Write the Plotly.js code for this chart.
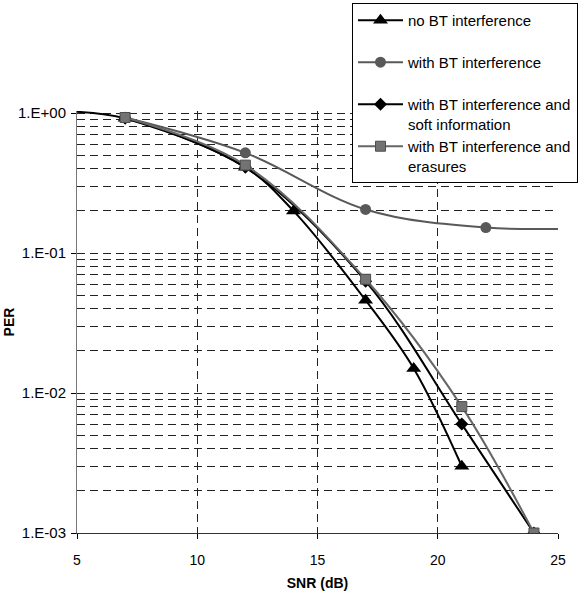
<!DOCTYPE html>
<html>
<head>
<meta charset="utf-8">
<script src="https://cdn.plot.ly/plotly-3.0.1.min.js"></script>
<style>html,body{margin:0;padding:0;background:#fff;}#chart{width:578px;height:591px;}</style>
</head>
<body>
<div id="chart"></div>
<script>
// Series data (SNR in dB, PER)
var seriesNames = [
  "no BT interference<br> ",
  "with BT interference<br> ",
  "with BT interference and<br>soft information",
  "with BT interference and<br>erasures"
];
var snrNoBT = [4, 7, 12, 14, 17, 19, 21];
var perNoBT = [1.035, 0.92, 0.41, 0.2, 0.046, 0.015, 0.003];

var snrBT = [7, 12, 17, 22, 27];
var perBT = [0.93, 0.52, 0.205, 0.152, 0.152];

var snrSoft = [7, 12, 17, 21, 24];
var perSoft = [0.92, 0.41, 0.063, 0.006, 0.001];

var snrErase = [7, 12, 17, 21, 24];
var perErase = [0.93, 0.425, 0.065, 0.008, 0.001];

var yTickVals = [0.001, 0.01, 0.1, 1];
var yTickText = ["1.E-03", "1.E-02", "1.E-01", "1.E+00"];
var yMinorVals = [];
[0.001, 0.01, 0.1].forEach(function (d) {
  for (var k = 2; k <= 9; k++) yMinorVals.push(+(k * d).toPrecision(3));
});
var xTickVals = [5, 10, 15, 20, 25];

var FONT = "Arial, 'Liberation Sans', sans-serif";

var traces = [
  {x: snrNoBT, y: perNoBT, name: seriesNames[0], mode: "lines+markers",
   line: {color: "#000000", width: 2, shape: "spline", smoothing: 1},
   marker: {symbol: "triangle-up", size: 13, color: "#000000"}},
  {x: snrBT, y: perBT, name: seriesNames[1], mode: "lines+markers",
   line: {color: "#595959", width: 2, shape: "spline", smoothing: 1},
   marker: {symbol: "circle", size: 11, color: "#595959"}},
  {x: snrSoft, y: perSoft, name: seriesNames[2], mode: "lines+markers",
   line: {color: "#000000", width: 2, shape: "spline", smoothing: 1},
   marker: {symbol: "diamond", size: 10, color: "#000000"}},
  {x: snrErase, y: perErase, name: seriesNames[3], mode: "lines+markers",
   line: {color: "#666666", width: 2, shape: "spline", smoothing: 1},
   marker: {symbol: "square", size: 10, color: "#737373", line: {color: "#4d4d4d", width: 1}}}
];

var layout = {
  width: 578, height: 591,
  margin: {l: 77, r: 20, t: 111, b: 58, autoexpand: false},
  paper_bgcolor: "#ffffff", plot_bgcolor: "#ffffff",
  font: {family: FONT, size: 15, color: "#000000"},
  showlegend: true,
  legend: {
    x: 0.5717, xanchor: "left", y: 1.256, yanchor: "top",
    bgcolor: "#ffffff", bordercolor: "#000000", borderwidth: 1,
    font: {family: FONT, size: 15, color: "#000000"},
    valign: "top", itemwidth: 45
  },
  xaxis: {
    type: "linear", range: [5, 25],
    tickvals: xTickVals, ticktext: xTickVals.map(String),
    ticks: "outside", ticklen: 5, tickcolor: "#000000",
    ticklabelstandoff: 9,
    showline: true, linecolor: "#333333", linewidth: 1,
    showgrid: true, gridcolor: "#222222", gridwidth: 1, griddash: "8px,5px",
    zeroline: false,
    tickfont: {family: FONT, size: 14, color: "#000000"},
    title: {text: "<b>SNR (dB)</b>", font: {family: FONT, size: 14, color: "#000000"}, standoff: 14},
    automargin: true
  },
  yaxis: {
    type: "log", range: [-3, 0.015],
    tickvals: yTickVals, ticktext: yTickText,
    ticks: "outside", ticklen: 5, tickcolor: "#000000",
    ticklabelstandoff: 2,
    showline: true, linecolor: "#777777", linewidth: 1,
    showgrid: true, gridcolor: "#222222", gridwidth: 1, griddash: "8px,5px",
    minor: {tickvals: yMinorVals, showgrid: true, gridcolor: "#222222", gridwidth: 1, griddash: "8px,5px", ticks: ""},
    zeroline: false,
    tickfont: {family: FONT, size: 15, color: "#000000"},
    title: {text: "<b>PER</b>", font: {family: FONT, size: 14, color: "#000000"}, standoff: 0},
    automargin: true
  }
};

Plotly.newPlot("chart", traces, layout, {staticPlot: true, displayModeBar: false});
</script>
</body>
</html>
